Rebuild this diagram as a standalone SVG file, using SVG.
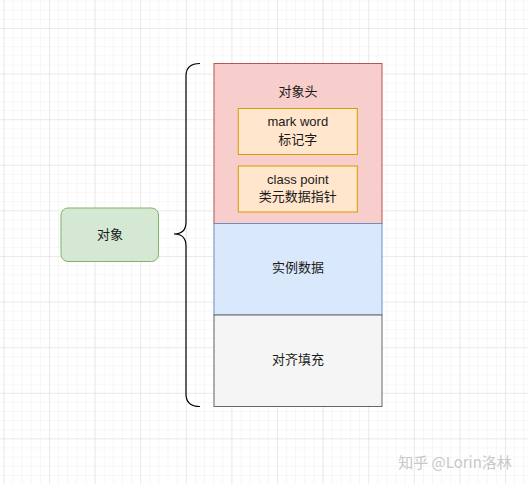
<svg xmlns="http://www.w3.org/2000/svg" width="528" height="484" viewBox="0 0 528 484">
<defs>
<pattern id="minor" x="3.4" y="28" width="9.12" height="9.12" patternUnits="userSpaceOnUse">
<path d="M0,0 H9.12 M0,0 V9.12" fill="none" stroke="#efefef" stroke-width="1"/>
</pattern>
<pattern id="major" x="3.4" y="28" width="45.6" height="45.6" patternUnits="userSpaceOnUse">
<path d="M0,0 H45.6 M0,0 V45.6" fill="none" stroke="#dedede" stroke-width="1"/>
</pattern>
<style>
text{font-family:"Noto Sans CJK SC","Liberation Sans",Arial,sans-serif;font-size:13px;fill:#1a1a1a;text-anchor:middle;dominant-baseline:central}
.t{font-family:"Liberation Sans",Arial,"Noto Sans CJK SC",sans-serif}
.inner{fill:#ffe6cc;stroke:#d79b00;stroke-width:1}
</style>
</defs>
<rect width="528" height="484" fill="#ffffff"/>
<rect width="528" height="484" fill="url(#minor)"/>
<rect width="528" height="484" fill="url(#major)"/>
<g id="connectors">
<path d="M200,63.5 Q186,63.5 186,76 L186,222 Q186,234 174,234 Q186,234 186,246 L186,394 Q186,406.5 200,406.5" fill="none" stroke="#000000" stroke-width="1.2"/>
</g>
<g id="node-object">
<rect x="61" y="208" width="97.5" height="53.5" rx="7" fill="#d5e8d4" stroke="#82b366"/>
<text x="110" y="233.5">对象</text>
</g>
<g id="node-header">
<rect x="214" y="63.5" width="168" height="160" fill="#f8cecc" stroke="#b85450"/>
<text x="298" y="90.5">对象头</text>
</g>
<g id="node-markword">
<rect class="inner" x="238.3" y="108.5" width="119" height="46"/>
<text class="t" x="297.8" y="121.5">mark word</text>
<text x="297.8" y="138.5">标记字</text>
</g>
<g id="node-classpoint">
<rect class="inner" x="238.3" y="166" width="119" height="46"/>
<text class="t" x="297.8" y="179.5">class point</text>
<text x="297.8" y="195.5">类元数据指针</text>
</g>
<g id="node-instance">
<rect x="214" y="223.5" width="168" height="91.5" fill="#dae8fc" stroke="#6c8ebf"/>
<text x="298" y="266.5">实例数据</text>
</g>
<g id="node-padding">
<rect x="214" y="315" width="168" height="91.5" fill="#f5f5f5" stroke="#666666"/>
<text x="298" y="358.5">对齐填充</text>
</g>
<text x="455" y="461" style="font-size:15px;fill:#c8c8c8">知乎 @Lorin洛林</text>
</svg>
